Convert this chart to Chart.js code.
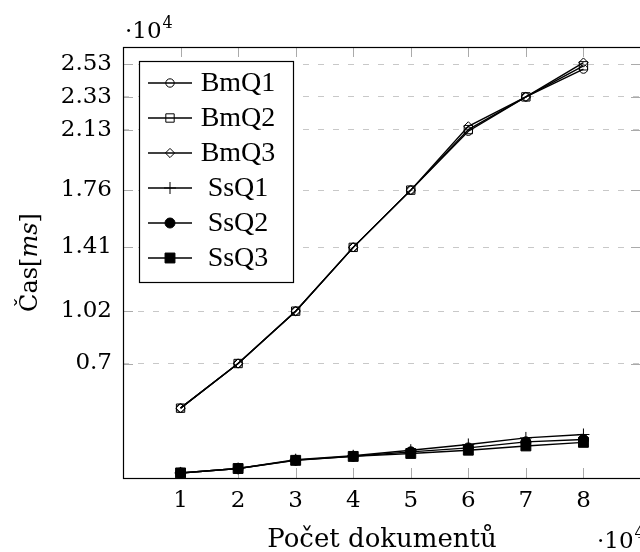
<!DOCTYPE html>
<html>
<head>
<meta charset="utf-8">
<script src="https://cdn.jsdelivr.net/npm/chart.js@4.4.1/dist/chart.umd.min.js"></script>
<style>
html,body{margin:0;padding:0;background:#fff;overflow:hidden;width:640px;height:552px;}
#wrap{width:660px;height:552px;}
</style>
</head>
<body>
<div id="wrap"><canvas id="c" width="660" height="552"></canvas></div>
<script>
// ---- data (time in ms, documents as counts) ----
const docCounts = [10000, 20000, 30000, 40000, 50000, 60000, 70000, 80000];
const xTickValues = [10000, 20000, 30000, 40000, 50000, 60000, 70000, 80000];
const xTickLabels = ['1', '2', '3', '4', '5', '6', '7', '8'];
const yTickValues = [7000, 10200, 14100, 17600, 21300, 23300, 25300];
const yTickLabels = ['0.7', '1.02', '1.41', '1.76', '2.13', '2.33', '2.53'];
const seriesNames = ['BmQ1', 'BmQ2', 'BmQ3', 'SsQ1', 'SsQ2', 'SsQ3'];
const bmQ1 = [4270, 7000, 10200, 14100, 17600, 21200, 23300, 25000];
const bmQ2 = [4270, 7000, 10200, 14100, 17600, 21300, 23300, 25200];
const bmQ3 = [4270, 7000, 10200, 14100, 17600, 21500, 23300, 25400];
const ssQ1 = [310, 580, 1120, 1360, 1700, 2050, 2450, 2660];
const ssQ2 = [310, 580, 1090, 1330, 1600, 1840, 2210, 2350];
const ssQ3 = [310, 580, 1080, 1320, 1500, 1700, 1960, 2180];

const serif = 'DejaVu Serif';
const legendFont = 'Liberation Serif';

function mk(name, vals, style, radius, filled, i) {
  return {
    label: name,
    data: docCounts.map((x, k) => ({x: x, y: vals[k]})),
    borderColor: '#000',
    borderWidth: 1.4,
    tension: 0,
    fill: false,
    pointStyle: style,
    pointRadius: radius,
    pointHoverRadius: radius,
    pointBorderWidth: 1,
    pointBorderColor: '#000',
    pointBackgroundColor: filled ? '#000' : 'rgba(0,0,0,0)',
    order: 6 - i
  };
}

const datasets = [
  mk(seriesNames[0], bmQ1, 'circle', 4.2, false, 0),
  mk(seriesNames[1], bmQ2, 'rect', 5.9, false, 1),
  mk(seriesNames[2], bmQ3, 'rectRot', 4.6, false, 2),
  mk(seriesNames[3], ssQ1, 'cross', 6, false, 3),
  mk(seriesNames[4], ssQ2, 'circle', 5, true, 4),
  mk(seriesNames[5], ssQ3, 'rect', 7, true, 5)
];

function drawTimes(ctx, x, y, size) {
  // "·10^4" label
  ctx.save();
  ctx.fillStyle = '#000';
  ctx.textBaseline = 'alphabetic';
  ctx.textAlign = 'left';
  ctx.font = size + 'px "' + serif + '"';
  ctx.fillText('·10', x, y);
  const w = ctx.measureText('·10').width;
  ctx.font = Math.round(size * 0.7) + 'px "' + serif + '"';
  ctx.fillText('4', x + w + 1, y - size * 0.42);
  ctx.restore();
}

const decor = {
  id: 'decor',
  beforeDatasetsDraw(chart) {
    const ctx = chart.ctx, a = chart.chartArea;
    const xs = chart.scales.x, ys = chart.scales.y;
    ctx.save();
    ctx.strokeStyle = '#aaaaaa';
    ctx.lineWidth = 1;
    ctx.beginPath();
    xs.ticks.forEach(t => {
      const px = Math.round(xs.getPixelForValue(t.value)) + 0.5;
      ctx.moveTo(px, a.bottom); ctx.lineTo(px, a.bottom - 10);
      ctx.moveTo(px, a.top); ctx.lineTo(px, a.top + 10);
    });
    ys.ticks.forEach(t => {
      const py = Math.round(ys.getPixelForValue(t.value)) + 0.5;
      ctx.moveTo(a.left, py); ctx.lineTo(a.left + 10, py);
      ctx.moveTo(a.right, py); ctx.lineTo(a.right - 10, py);
    });
    ctx.stroke();
    ctx.restore();
  },
  afterDatasetsDraw(chart) {
    const ctx = chart.ctx, a = chart.chartArea;
    ctx.save();
    ctx.strokeStyle = '#000';
    ctx.lineWidth = 1.2;
    ctx.strokeRect(Math.round(a.left) + 0.5, Math.round(a.top) + 0.5, a.right - a.left, a.bottom - a.top);
    ctx.restore();
  },
  afterDraw(chart) {
    const ctx = chart.ctx, a = chart.chartArea;
    // axis titles
    ctx.save();
    ctx.fillStyle = '#000';
    ctx.font = '26px "' + serif + '"';
    ctx.textAlign = 'center';
    ctx.textBaseline = 'alphabetic';
    ctx.fillText('Počet dokumentů', (a.left + a.right) / 2, 547);
    ctx.restore();

    ctx.save();
    ctx.translate(37, (a.top + a.bottom) / 2);
    ctx.rotate(-Math.PI / 2);
    ctx.fillStyle = '#000';
    ctx.textBaseline = 'alphabetic';
    const parts = [['Čas[', ''], ['ms', 'italic '], [']', '']];
    let total = 0;
    parts.forEach(p => { ctx.font = p[1] + '24px "' + serif + '"'; total += ctx.measureText(p[0]).width; });
    let cx = -total / 2;
    parts.forEach(p => {
      ctx.font = p[1] + '24px "' + serif + '"';
      ctx.textAlign = 'left';
      ctx.fillText(p[0], cx, 0);
      cx += ctx.measureText(p[0]).width;
    });
    ctx.restore();

    drawTimes(ctx, 125, 38, 23);
    drawTimes(ctx, 597, 548, 23);

    // legend
    const lx = 139, ly = 61, lw = 154, lh = 221;
    ctx.save();
    ctx.fillStyle = '#fff';
    ctx.fillRect(lx, ly, lw, lh);
    ctx.strokeStyle = '#000';
    ctx.lineWidth = 1.2;
    ctx.strokeRect(lx + 0.5, ly + 0.5, lw, lh);
    const ds = chart.data.datasets;
    ds.forEach((d, i) => {
      const y = 83 + i * 35;
      ctx.strokeStyle = '#000';
      ctx.lineWidth = 1.3;
      ctx.beginPath();
      ctx.moveTo(148, y); ctx.lineTo(192, y);
      ctx.stroke();
      ctx.fillStyle = d.pointBackgroundColor;
      ctx.strokeStyle = '#000';
      ctx.lineWidth = 1;
      Chart.helpers.drawPoint(ctx, {pointStyle: d.pointStyle, radius: d.pointRadius, rotation: 0, borderWidth: 1}, 170, y);
      ctx.fillStyle = '#000';
      ctx.font = '28px "' + legendFont + '"';
      ctx.textAlign = 'center';
      ctx.textBaseline = 'middle';
      ctx.fillText(d.label, 238, y + 1);
    });
    ctx.restore();
  }
};

new Chart(document.getElementById('c'), {
  type: 'line',
  data: {datasets: datasets},
  options: {
    responsive: false,
    animation: false,
    devicePixelRatio: 1,
    layout: {padding: {top: 47, right: 19, left: 0, bottom: 0}},
    plugins: {legend: {display: false}, tooltip: {enabled: false}},
    scales: {
      x: {
        type: 'linear', min: 0, max: 90000,
        afterBuildTicks: s => { s.ticks = xTickValues.map(v => ({value: v})); },
        afterFit: s => { s.height = 74; },
        ticks: {
          autoSkip: false, maxRotation: 0, color: '#000', padding: 1,
          font: {family: serif, size: 23},
          callback: (v, i) => xTickLabels[i]
        },
        grid: {display: false},
        border: {display: false}
      },
      y: {
        type: 'linear', min: 0, max: 26350,
        afterBuildTicks: s => { s.ticks = yTickValues.map(v => ({value: v})); },
        afterFit: s => { s.width = 123; },
        ticks: {
          autoSkip: false, color: '#000', padding: 11,
          font: {family: serif, size: 23},
          callback: (v, i) => yTickLabels[i]
        },
        grid: {display: true, drawTicks: false, color: '#c8c8c8', lineWidth: 1},
        border: {display: false, dash: [6, 9]}
      }
    }
  },
  plugins: [decor]
});
</script>
</body>
</html>
